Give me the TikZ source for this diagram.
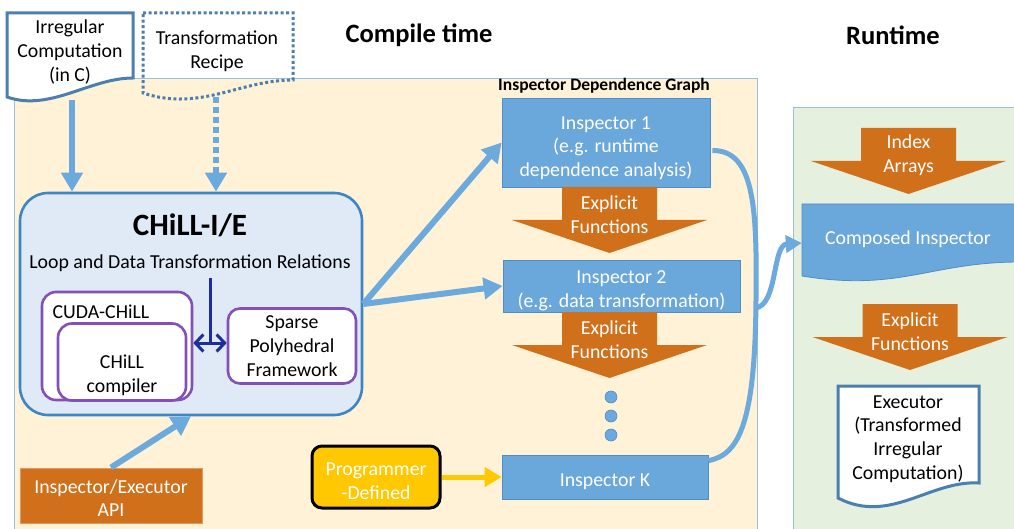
\documentclass[tikz,border=0pt]{standalone}
\usepackage{fontspec}
\setmainfont{Carlito}
\usetikzlibrary{arrows.meta,calc}

\definecolor{bgyellow}{HTML}{FFF2D6}
\definecolor{bggreen}{HTML}{E6F0DF}
\definecolor{bgborder}{HTML}{9BBFDF}
\definecolor{chillfill}{HTML}{DFEAF6}
\definecolor{chillborder}{HTML}{3D86C6}
\definecolor{inspfill}{HTML}{6AA7DB}
\definecolor{inspborder}{HTML}{4F8DC6}
\definecolor{arrowblue}{HTML}{6CA9DC}
\definecolor{docborder}{HTML}{4B7FB0}
\definecolor{orangefill}{HTML}{D1701A}
\definecolor{purpleline}{HTML}{8350B8}
\definecolor{navyline}{HTML}{1C2E9E}
\definecolor{progyellow}{HTML}{FFC800}

\newcommand{\bodysize}{\fontsize{19.8}{23.7}\selectfont}
% orange block arrow pointing down: name, centre x, top y, text
\newcommand{\orangearrow}[4]{%
  \fill[orangefill] (#2-47.5,#3) -- (#2+47.5,#3) -- (#2+47.5,#3+33) -- (#2+97.5,#3+33)
    -- (#2,#3+66) -- (#2-97.5,#3+33) -- (#2-47.5,#3+33) -- cycle;
  \node[wtxt] (#1) at (#2,#3+27.5) {#4};}

\begin{document}
\begin{tikzpicture}[x=1pt,y=-1pt,
  txt/.style={font=\bodysize, align=center, inner sep=0pt},
  wtxt/.style={txt, text=white},
  title/.style={font=\bfseries\fontsize{26.5}{30}\selectfont, inner sep=0pt},
  inspbox/.style={wtxt, draw=inspborder, fill=inspfill, line width=0.8pt},
  purplebox/.style={txt, draw=purpleline, fill=white, line width=2.6pt, rounded corners=14pt},
  bigarrow/.style={draw=arrowblue, line width=6pt, -{Triangle[length=19pt,width=21pt]}},
  dotarrow/.style={bigarrow, dash pattern=on 6pt off 4pt},
  dot/.style={circle, fill=arrowblue, draw=inspborder, line width=0.6pt, minimum size=12pt, inner sep=0pt}]
  \useasboundingbox (0,0) rectangle (1014,529);

  % compile time and runtime areas
  \draw[bgborder, fill=bgyellow] (14,78) rectangle (757,540);
  \draw[bgborder, fill=bggreen] (793,107) rectangle (1030,540);
  \node[title] (ct) at (419,35) {Compile time};
  \node[title] (rt) at (893,35) {Runtime};
  \node[font=\bfseries\fontsize{17.5}{20}\selectfont, inner sep=0pt] (idg) at (604,86) {Inspector Dependence Graph};

  % inputs
  \draw[docborder, line width=3pt, fill=white] (7,13) -- (133,13) -- (133,78)
    .. controls (90,78) and (50,112) .. (7,97) -- cycle;
  \node[txt] (irr) at (70,52) {Irregular\\Computation\\(in C)};
  \coordinate (irrb) at (72,100);
  \draw[docborder, line width=3pt, dash pattern=on 3pt off 2.5pt] (143,13) -- (293,13) -- (293,80)
    .. controls (240,80) and (200,112) .. (143,93) -- cycle;
  \node[txt] (rec) at (217,51.5) {Transformation\\Recipe};
  \coordinate (recb) at (216,97);

  % CHiLL-I/E
  \node[draw=chillborder, fill=chillfill, line width=2.6pt, rounded corners=28pt,
    minimum width=342pt, minimum height=222pt] (chill) at (191,304) {};
  \node[font=\bfseries\fontsize{31}{34}\selectfont, inner sep=0pt] (chilltitle) at (190,225) {CHiLL-I/E};
  \node[txt] (rel) at (190,263.5) {Loop and Data Transformation Relations};
  \node[purplebox, minimum width=150pt, minimum height=108pt] (cuda) at (117,346) {};
  \node[txt] (cudatxt) at (101,312) {CUDA-CHiLL};
  \node[purplebox, minimum width=128pt, minimum height=77pt] (comp) at (122,362) {};
  \node[txt] (chilltxt) at (122,375.5) {CHiLL\\compiler};
  \node[purplebox, rounded corners=12pt, minimum width=128pt, minimum height=75pt] (spf) at (292,346)
    {Sparse\\Polyhedral\\Framework};
  \coordinate (link) at (210,343);
  \draw[navyline, line width=3pt] ($(link |- rel.south)+(0,6)$) -- (link);
  \draw[navyline, line width=3pt, {Straight Barb[length=8pt,width=17pt]}-{Straight Barb[length=8pt,width=17pt]}]
    (cuda.east |- link) -- (spf.west |- link);

  \node[wtxt, fill=orangefill, draw=orangefill!70!white, line width=1pt,
    minimum width=182pt, minimum height=55pt,
    label={[wtxt, yshift=-2.5pt]center:{Inspector/Executor\\API}}] (api) at (111,495.5) {};
  \node[wtxt, fill=progyellow, draw=black, line width=3pt, rounded corners=10pt,
    minimum width=128pt, minimum height=62pt,
    label={[wtxt, yshift=-4pt]center:{Programmer\\-Defined}}] (prog) at (376,477) {};

  % inspectors
  \node[inspbox, minimum width=208pt, minimum height=89pt,
    label={[wtxt, yshift=-5.5pt]center:{Inspector 1\\(e.g. runtime\\dependence analysis)}}] (insp1) at (606,142.5) {};
  \node[inspbox, minimum width=237pt, minimum height=52pt,
    label={[wtxt, yshift=-4.5pt]center:{Inspector 2\\(e.g. data transformation)}}] (insp2) at (621.5,286) {};
  \node[inspbox, minimum width=206pt, minimum height=44pt,
    label={[wtxt, yshift=-4.5pt]center:{Inspector K}}] (inspk) at (605,477) {};
  \orangearrow{ef1}{609.5}{187}{Explicit\\Functions}
  \orangearrow{ef2}{609.5}{312}{Explicit\\Functions}
  \foreach \y [count=\i] in {397,416,435}
    \node[dot] (dot\i) at (611,\y) {};

  % runtime
  \orangearrow{idx}{908.5}{128}{Index\\Arrays}
  \draw[fill=inspfill, draw=inspborder, line width=0.8pt] (802,204) -- (1020,204) -- (1020,262)
    .. controls (930,262) and (900,292) .. (802,276) -- cycle;
  \node[wtxt, minimum width=212pt] (cinsp) at (908,239) {Composed Inspector};
  \orangearrow{ef3}{910}{304}{Explicit\\Functions}
  \draw[docborder, line width=3pt, fill=white] (838,386) -- (979,386) -- (979,483)
    .. controls (930,480) and (890,525) .. (838,498) -- cycle;
  \node[txt] (exec) at (908,439) {Executor\\(Transformed\\Irregular\\Computation)};

  % connectors
  \draw[bigarrow] (irrb) -- (irrb |- chill.north);
  \draw[dotarrow] (recb) -- (recb |- chill.north);
  \draw[bigarrow] (chill.east) -- (insp1.west);
  \draw[bigarrow] (chill.east) -- (insp2.west);
  \draw[bigarrow] (api.north) -- (chill.south);
  \draw[draw=progyellow, line width=5pt, -{Triangle[length=17pt,width=19pt]}] (prog.east) -- (inspk.west);
  \draw[arrowblue, line width=5pt] ($(insp1.east)+(2,8)$) .. controls (755,150) and (757,210) .. (756,300)
    .. controls (755,420) and (740,455) .. ($(inspk.north east)+(0,6)$);
  \coordinate (branch) at (755,308);
  \draw[arrowblue, line width=5pt, -{Triangle[length=16pt,width=17pt]}] (branch)
    .. controls (778,306) and (772,245) .. ($(cinsp.west)+(0,4)$);
\end{tikzpicture}
\end{document}
